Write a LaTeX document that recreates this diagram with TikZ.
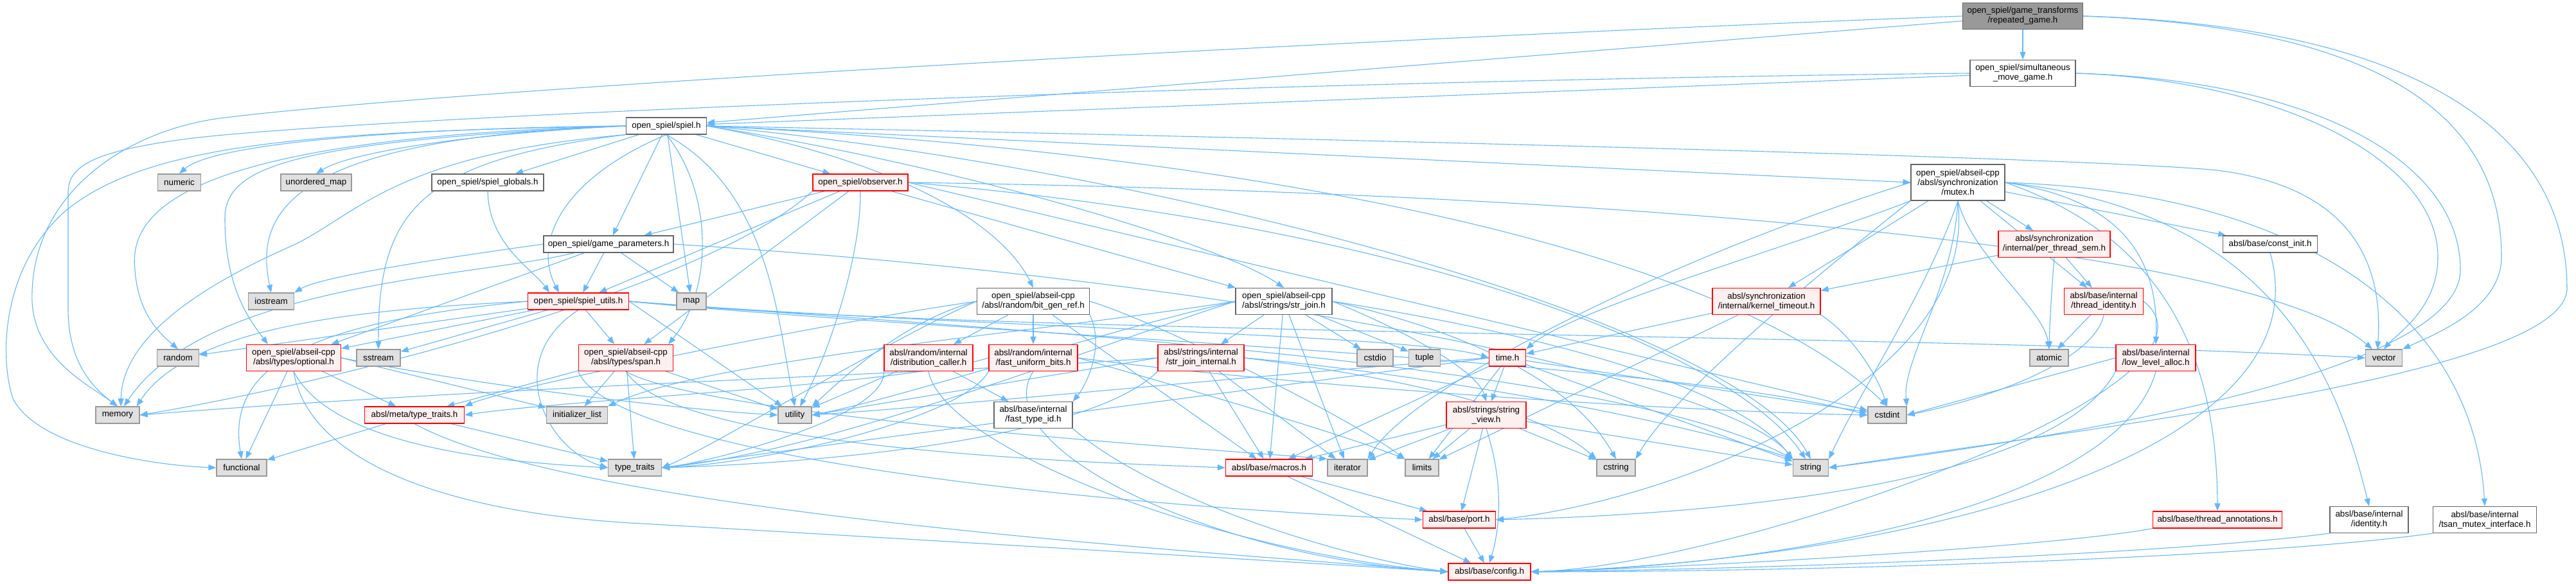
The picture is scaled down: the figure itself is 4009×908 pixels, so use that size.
\documentclass[tikz,border=0pt]{standalone}
\usepackage{fontspec}
\setmainfont{Liberation Sans}
\usetikzlibrary{arrows.meta}
\pgfdeclarelayer{bg}
\pgfdeclarelayer{paper}
\pgfsetlayers{paper,bg,main}
\definecolor{edgec}{HTML}{63B8FF}
\definecolor{redfill}{HTML}{FFF0F0}
\definecolor{grayfill}{HTML}{E0E0E0}
\definecolor{grayline}{HTML}{999999}
\definecolor{darkline}{HTML}{666666}
\definecolor{redline}{HTML}{FF0000}
\begin{document}
\begin{tikzpicture}[x=1pt,y=-1pt,
  box/.style={line width=1.2pt, inner sep=0pt, align=center, font=\fontsize{13.4}{15}\selectfont},
  wbox/.style={box, fill=white, draw=darkline},
  gbox/.style={box, fill=grayfill, draw=grayline},
  rbox/.style={box, fill=redfill, draw=redline},
  rootbox/.style={box, fill=grayline, draw=darkline},
  one/.style={minimum height=26},
  two/.style={minimum height=41},
  three/.style={minimum height=56},
  e/.style={draw=edgec, line width=1.1pt, -{Triangle[length=12pt,width=9pt]}}]
\useasboundingbox (0,0) rectangle (4009,908);
\begin{pgfonlayer}{paper}
\fill[white] (0,0) rectangle (4009,908);
\end{pgfonlayer}
% nodes
\node[rootbox,two,minimum width=187] (rg) at (3148,25) {open\_spiel/game\_transforms\\/repeated\_game.h};
\node[wbox,two,minimum width=164] (smg) at (3148,114) {open\_spiel/simultaneous\\\_move\_game.h};
\node[wbox,one,minimum width=125] (spiel) at (1037,196) {open\_spiel/spiel.h};
\node[wbox,three,minimum width=146] (mutex) at (3047,284) {open\_spiel/abseil-cpp\\/absl/synchronization\\/mutex.h};
\node[gbox,one,minimum width=67] (numeric) at (279,284) {numeric};
\node[gbox,one,minimum width=110] (umap) at (492,284) {unordered\_map};
\node[wbox,one,minimum width=174] (globals) at (759,284) {open\_spiel/spiel\_globals.h};
\node[rbox,one,minimum width=148] (observer) at (1339,284) {open\_spiel/observer.h};
\node[wbox,one,minimum width=202] (gparams) at (947,380) {open\_spiel/game\_parameters.h};
\node[rbox,two,minimum width=174] (pts) at (3197,380) {absl/synchronization\\/internal/per\_thread\_sem.h};
\node[wbox,one,minimum width=147] (constinit) at (3533,380) {absl/base/const\_init.h};
\node[gbox,one,minimum width=71] (iostream) at (422,469) {iostream};
\node[rbox,one,minimum width=157] (sutils) at (900,469) {open\_spiel/spiel\_utils.h};
\node[gbox,one,minimum width=46] (map) at (1076,469) {map};
\node[wbox,two,minimum width=175] (bitgen) at (1608,469) {open\_spiel/abseil-cpp\\/absl/random/bit\_gen\_ref.h};
\node[wbox,two,minimum width=150] (strjoin) at (1998,469) {open\_spiel/abseil-cpp\\/absl/strings/str\_join.h};
\node[rbox,two,minimum width=168] (ktimeout) at (2749,469) {absl/synchronization\\/internal/kernel\_timeout.h};
\node[rbox,two,minimum width=123] (tid) at (3274,469) {absl/base/internal\\/thread\_identity.h};
\node[gbox,one,minimum width=65] (random) at (277,557) {random};
\node[rbox,two,minimum width=147] (optional) at (457,557) {open\_spiel/abseil-cpp\\/absl/types/optional.h};
\node[gbox,one,minimum width=68] (sstream) at (589,557) {sstream};
\node[rbox,two,minimum width=147] (span) at (974,557) {open\_spiel/abseil-cpp\\/absl/types/span.h};
\node[rbox,two,minimum width=138] (distcaller) at (1445,557) {absl/random/internal\\/distribution\_caller.h};
\node[rbox,two,minimum width=138] (fub) at (1608,557) {absl/random/internal\\/fast\_uniform\_bits.h};
\node[rbox,two,minimum width=134] (sji) at (1869,557) {absl/strings/internal\\/str\_join\_internal.h};
\node[gbox,one,minimum width=56] (cstdio) at (2140,557) {cstdio};
\node[gbox,one,minimum width=49] (tuple) at (2217,557) {tuple};
\node[rbox,one,minimum width=57] (time) at (2346,557) {time.h};
\node[gbox,one,minimum width=60] (atomic) at (3189,557) {atomic};
\node[rbox,two,minimum width=124] (lla) at (3355,557) {absl/base/internal\\/low\_level\_alloc.h};
\node[gbox,one,minimum width=57] (vector) at (3710,557) {vector};
\node[gbox,one,minimum width=68] (memory) at (183,646) {memory};
\node[rbox,one,minimum width=155] (metatt) at (645,646) {absl/meta/type\_traits.h};
\node[gbox,one,minimum width=95] (initlist) at (898,646) {initializer\_list};
\node[gbox,one,minimum width=52] (utility) at (1237,646) {utility};
\node[wbox,two,minimum width=122] (ftid) at (1608,646) {absl/base/internal\\/fast\_type\_id.h};
\node[rbox,two,minimum width=124] (sv) at (2313,646) {absl/strings/string\\\_view.h};
\node[gbox,one,minimum width=60] (cstdint) at (2937,646) {cstdint};
\node[gbox,one,minimum width=78] (functional) at (376,728) {functional};
\node[gbox,one,minimum width=83] (typetraits) at (988,728) {type\_traits};
\node[rbox,one,minimum width=135] (macros) at (1975,728) {absl/base/macros.h};
\node[gbox,one,minimum width=62] (iterator) at (2097,728) {iterator};
\node[gbox,one,minimum width=52] (limits) at (2213,728) {limits};
\node[gbox,one,minimum width=60] (cstring) at (2515,728) {cstring};
\node[gbox,one,minimum width=55] (string) at (2818,728) {string};
\node[rbox,one,minimum width=113] (port) at (2271,809) {absl/base/port.h};
\node[rbox,one,minimum width=201] (tann) at (3451,809) {absl/base/thread\_annotations.h};
\node[wbox,two,minimum width=122] (identity) at (3687,809) {absl/base/internal\\/identity.h};
\node[wbox,two,minimum width=161] (tsan) at (3867,809) {absl/base/internal\\/tsan\_mutex\_interface.h};
\node[rbox,one,minimum width=128] (config) at (2318,890) {absl/base/config.h};
\begin{pgfonlayer}{bg}
% repeated_game
\draw[e] (rg) -- (smg);
\draw[e] (rg) -- (spiel);
\draw[e] (rg.west) .. controls (2000,65) and (700,140) .. (351,183) .. controls (200,200) and (45,300) .. (50,470) .. controls (55,560) and (140,600) .. (memory.north);
\draw[e] (rg.east) .. controls (3750,40) and (3995,200) .. (3995,450) .. controls (3990,580) and (3300,660) .. (string.east);
\draw[e] (rg.east) .. controls (3650,40) and (3893,150) .. (3893,400) .. controls (3893,480) and (3790,520) .. (vector.north east);
% simultaneous
\draw[e] (smg) -- (spiel);
\draw[e] (smg.west) .. controls (2000,125) and (600,180) .. (300,215) .. controls (140,235) and (106,260) .. (106,300) -- (106,480) .. controls (106,560) and (140,600) .. (memory.north);
\draw[e] (smg.east) .. controls (3600,125) and (3829,250) .. (3829,420) .. controls (3829,570) and (3300,670) .. (string.east);
\draw[e] (smg.east) .. controls (3550,125) and (3794,250) .. (3794,400) .. controls (3794,480) and (3730,520) .. (vector.north);
% spiel.h
\draw[e] (spiel.west) .. controls (600,200) and (330,225) .. (numeric.north);
\draw[e] (spiel.west) .. controls (700,210) and (540,240) .. (umap.north);
\draw[e] (spiel) -- (globals);
\draw[e] (spiel) -- (gparams);
\draw[e] (spiel) -- (observer);
\draw[e] (spiel.south) .. controls (870,280) and (830,380) .. ([xshift=-30pt]sutils.north);
\draw[e] (spiel.west) .. controls (450,215) and (395,330) .. (iostream.north);
\draw[e] (spiel.west) .. controls (280,215) and (200,330) .. (210,420) .. controls (215,490) and (250,520) .. (random.north);
\draw[e] (spiel.south west) .. controls (620,240) and (560,330) .. (460,380) .. controls (300,450) and (190,530) .. ([xshift=5pt]memory.north);
\draw[e] (spiel.west) .. controls (500,205) and (230,220) .. (100,330) .. controls (0,420) and (0,560) .. (20,620) .. controls (60,700) and (250,725) .. (functional.west);
\draw[e] (spiel.west) .. controls (450,220) and (350,260) .. (350,340) .. controls (350,450) and (390,500) .. ([xshift=-40pt]optional.north);
\draw[e] (spiel.south west) .. controls (650,250) and (588,330) .. (sstream.north);
\draw[e] (spiel.south) .. controls (1110,300) and (1110,450) .. ([xshift=-8pt]span.north east);
\draw[e] (spiel) -- (map);
\draw[e] (spiel.south) .. controls (1200,300) and (1210,500) .. (utility.north);
\draw[e] (spiel.east) .. controls (1400,250) and (1560,350) .. (bitgen.north);
\draw[e] (spiel.east) .. controls (1500,260) and (1900,380) .. (strjoin.north);
\draw[e] (spiel.east) -- (mutex.west);
\draw[e] (spiel.east) .. controls (2000,240) and (2700,400) .. (cstdint.north);
\draw[e] (spiel.east) .. controls (1800,260) and (2700,500) .. (string.north);
\draw[e] (spiel.east) .. controls (2500,225) and (3300,250) .. (3450,265) .. controls (3650,290) and (3710,400) .. ([xshift=-10pt]vector.north);
% observer
\draw[e] (observer) -- (gparams);
\draw[e] (observer) -- (sutils);
\draw[e] (observer) -- (span);
\draw[e] (observer) -- (strjoin);
\draw[e] (observer.south) .. controls (1340,400) and (1290,550) .. ([xshift=8pt]utility.north);
\draw[e] (observer.east) .. controls (2200,350) and (2700,550) .. ([xshift=-8pt]string.north);
\draw[e] (observer.east) .. controls (2500,300) and (3500,380) .. ([xshift=-18pt]vector.north);
\draw[e] (observer.east) -- (cstdint);
\draw[e] (observer.south west) .. controls (1100,450) and (500,600) .. (memory.east);
% game_parameters
\draw[e] (gparams.west) .. controls (700,400) and (500,430) .. (iostream.north east);
\draw[e] (gparams) .. controls (750,430) and (320,440) .. ([xshift=10pt]memory.north);
\draw[e] (gparams) -- (optional);
\draw[e] (gparams) -- (sutils);
\draw[e] (gparams) -- (map);
\draw[e] (gparams.east) .. controls (2000,440) and (2700,600) .. (string.north west);
% globals
\draw[e] (globals) .. controls (760,380) and (830,420) .. ([xshift=-45pt]sutils.north);
% spiel_utils
\draw[e] (sutils) -- (random);
\draw[e] (sutils) -- (optional);
\draw[e] (sutils) -- (sstream);
\draw[e] (sutils) -- (span);
\draw[e] (sutils.west) .. controls (600,480) and (300,500) .. ([xshift=-5pt]memory.north east);
\draw[e] (sutils.west) .. controls (500,500) and (350,560) .. (functional.north);
\draw[e] (sutils.south) .. controls (780,560) and (850,700) .. (typetraits.west);
\draw[e] (sutils.east) -- (utility);
\draw[e] (sutils.east) .. controls (1500,510) and (2500,560) .. (string.north west);
\draw[e] (sutils.east) .. controls (1500,520) and (3000,520) .. (vector.west);
\draw[e] (sutils.east) .. controls (1500,520) and (2600,560) .. (cstdint.west);
\draw[e] (sutils.east) .. controls (1500,510) and (2200,520) .. (time.west);
% span
\draw[e] (span) -- (initlist);
\draw[e] (span) -- (typetraits);
\draw[e] (span) -- (utility);
\draw[e] (span) -- (metatt);
\draw[e] (span.south) .. controls (1050,700) and (1700,720) .. (macros.west);
\draw[e] (span.south west) .. controls (950,700) and (1600,780) .. (port.west);
\draw[e] (span.south) .. controls (1100,650) and (1900,700) .. (iterator.north west);
% optional
\draw[e] (optional) -- (functional);
\draw[e] (optional) -- (metatt);
\draw[e] (optional.east) -- (initlist);
\draw[e] (optional.south) .. controls (520,700) and (800,720) .. (typetraits.west);
\draw[e] (optional.east) .. controls (800,610) and (1100,640) .. (utility.west);
\draw[e] (optional.south) .. controls (480,720) and (700,800) .. (1000,815) .. controls (1600,850) and (2100,880) .. (config.west);
% meta type_traits
\draw[e] (metatt) -- (functional);
\draw[e] (metatt) -- (typetraits);
\draw[e] (metatt.south) .. controls (900,800) and (1900,860) .. (config.west);
% bit_gen_ref
\draw[e] (bitgen) -- (distcaller);
\draw[e] (bitgen) -- (fub);
\draw[e] (bitgen.south east) .. controls (1720,540) and (1690,600) .. (ftid.north east);
\draw[e] (bitgen) -- (macros);
\draw[e] (bitgen.west) .. controls (1300,500) and (800,600) .. (metatt.north east);
\draw[e] (bitgen.east) .. controls (1800,500) and (2100,650) .. (limits.north west);
\draw[e] (bitgen.west) .. controls (1400,520) and (1100,700) .. (typetraits.east);
\draw[e] (bitgen.west) .. controls (1400,500) and (1300,600) .. (utility.north east);
% distribution_caller
\draw[e] (distcaller) -- (utility);
\draw[e] (distcaller) -- (ftid);
\draw[e] (distcaller.south west) .. controls (1380,650) and (1100,720) .. (typetraits.east);
\draw[e] (distcaller.south) .. controls (1470,700) and (1900,860) .. (config.west);
% fast_uniform_bits
\draw[e] (fub.east) .. controls (2000,600) and (2600,640) .. (cstdint.west);
\draw[e] (fub.east) .. controls (1900,620) and (2100,680) .. (limits.north west);
\draw[e] (fub.south west) .. controls (1500,650) and (1200,720) .. (typetraits.east);
\draw[e] (fub.south) .. controls (1530,700) and (1900,870) .. (config.west);
\draw[e] (fub.west) .. controls (1400,600) and (900,620) .. (metatt.east);
\draw[e] (ftid.south east) .. controls (1800,780) and (2100,870) .. (config.west);
% str_join
\draw[e] (strjoin) -- (cstdio);
\draw[e] (strjoin) -- (tuple);
\draw[e] (strjoin) -- (sji);
\draw[e] (strjoin) -- (macros);
\draw[e] (strjoin) -- (iterator);
\draw[e] (strjoin.east) .. controls (2400,520) and (2700,600) .. (string.north west);
\draw[e] (strjoin.east) .. controls (2300,520) and (2450,600) .. (cstring.north);
\draw[e] (strjoin.west) .. controls (1600,520) and (1100,560) .. (initlist.north east);
\draw[e] (strjoin.west) .. controls (1700,540) and (1300,700) .. (typetraits.east);
\draw[e] (strjoin.west) .. controls (1700,520) and (1400,620) .. (utility.east);
\draw[e] (strjoin.east) .. controls (2200,520) and (2300,580) .. (sv.north);
% str_join_internal
\draw[e] (sji.west) .. controls (1500,580) and (800,600) .. (memory.east);
\draw[e] (sji.south west) .. controls (1700,680) and (1300,720) .. (typetraits.east);
\draw[e] (sji.west) -- (utility.east);
\draw[e] (sji) -- (iterator);
\draw[e] (sji) -- (macros);
\draw[e] (sji.east) .. controls (2200,580) and (2600,650) .. (string.north west);
\draw[e] (sji.east) .. controls (2200,590) and (2400,640) .. (cstring.north west);
% time
\draw[e] (time) -- (sv);
\draw[e] (time) -- (string);
\draw[e] (time) -- (cstdint);
\draw[e] (time) -- (macros);
\draw[e] (time) -- (limits);
\draw[e] (time.west) .. controls (2000,600) and (1300,690) .. (typetraits.east);
\draw[e] (time.west) .. controls (2000,580) and (1500,630) .. (utility.east);
% string_view
\draw[e] (sv) -- (cstring);
\draw[e] (sv) -- (iterator);
\draw[e] (sv) -- (limits);
\draw[e] (sv) -- (string);
\draw[e] (sv) -- (port);
\draw[e] (sv) -- (macros);
\draw[e] (sv.south) .. controls (2340,750) and (2335,820) .. (config.north);
% port, macros
\draw[e] (port) -- (config);
\draw[e] (macros) -- (config);
\draw[e] (macros) -- (port);
% kernel_timeout
\draw[e] (ktimeout) -- (time);
\draw[e] (ktimeout) -- (limits);
\draw[e] (ktimeout.south east) .. controls (2880,520) and (2920,580) .. (cstdint.north);
% mutex
\draw[e] (mutex) -- (pts);
\draw[e] (mutex) -- (constinit);
\draw[e] (mutex) -- (tid);
\draw[e] (mutex) -- (ktimeout);
\draw[e] (mutex.east) .. controls (3300,310) and (3360,400) .. (lla.north);
\draw[e] (mutex.south) .. controls (3070,400) and (3180,480) .. (atomic.north);
\draw[e] (mutex.east) .. controls (3400,380) and (3450,600) .. (tann.north);
\draw[e] (mutex.east) .. controls (3550,330) and (3640,600) .. (identity.north);
\draw[e] (mutex.east) .. controls (3600,300) and (3850,500) .. (tsan.north);
\draw[e] (mutex.south) .. controls (3000,450) and (2900,600) .. (string.north east);
\draw[e] (mutex.south) .. controls (3040,450) and (2960,560) .. (cstdint.north east);
\draw[e] (mutex.south west) .. controls (2800,450) and (2600,620) .. (cstring.north east);
\draw[e] (mutex.west) .. controls (2600,400) and (2200,600) .. (iterator.north east);
\draw[e] (mutex.south) .. controls (3080,600) and (2600,780) .. (port.east);
\draw[e] (mutex.south west) .. controls (2800,380) and (2450,480) .. (time.north east);
% per_thread_sem
\draw[e] (pts) -- (tid);
\draw[e] (pts) -- (ktimeout);
\draw[e] (pts.south) .. controls (3193,450) and (3190,500) .. (atomic.north);
% thread_identity
\draw[e] (tid) -- (atomic);
\draw[e] (tid.south) .. controls (3260,560) and (3100,620) .. (cstdint.east);
\draw[e] (tid.east) .. controls (3500,600) and (2700,880) .. (config.east);
% low_level_alloc
\draw[e] (lla.west) -- (cstdint.east);
\draw[e] (lla.south west) .. controls (3200,750) and (2700,800) .. (port.east);
\draw[e] (lla.south) .. controls (3300,780) and (2800,880) .. (config.east);
% leaves to config
\draw[e] (constinit.south) .. controls (3620,700) and (3000,870) .. (config.east);
\draw[e] (tann.south west) .. controls (3200,850) and (2700,880) .. (config.east);
\draw[e] (identity.south west) .. controls (3400,860) and (2800,885) .. (config.east);
\draw[e] (tsan.south west) .. controls (3500,870) and (2800,890) .. (config.east);
\end{pgfonlayer}
\end{tikzpicture}
\end{document}
